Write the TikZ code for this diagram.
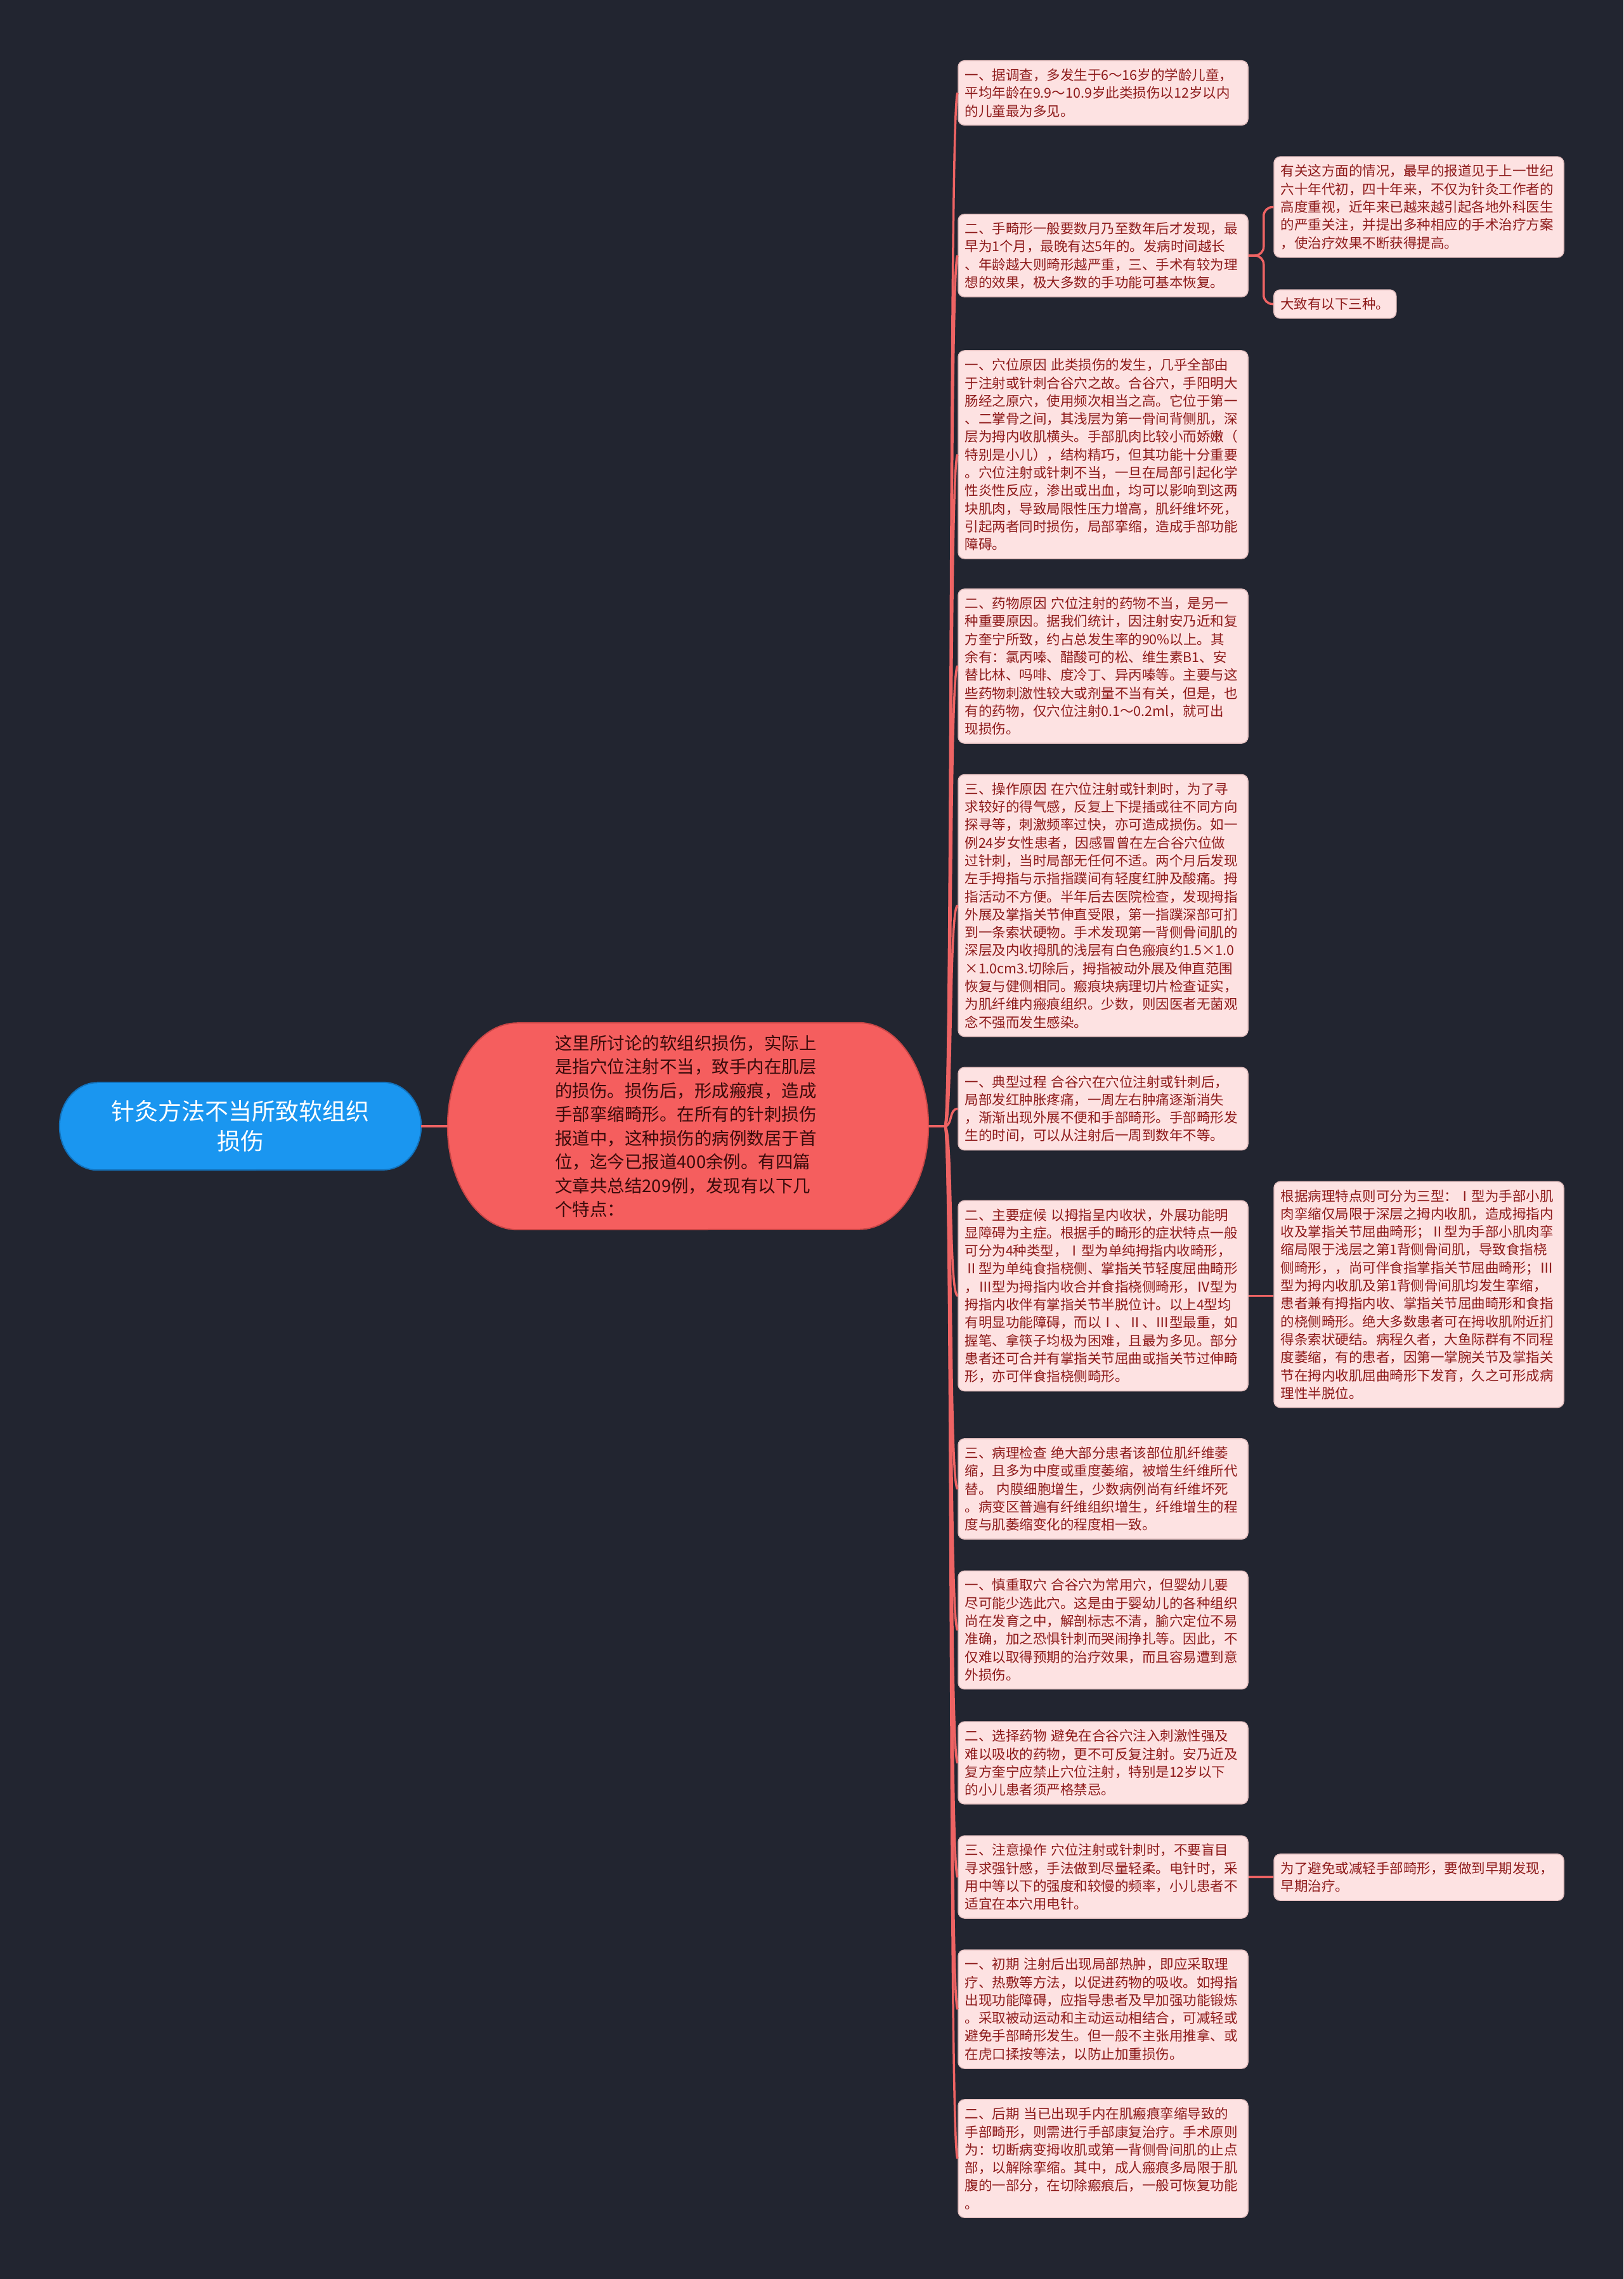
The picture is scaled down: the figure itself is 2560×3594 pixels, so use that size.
\documentclass[tikz,border=0pt]{standalone}
\usepackage{fontspec}
\setmainfont{Noto Sans CJK SC}
\usetikzlibrary{calc}
\definecolor{bgc}{HTML}{222530}
\definecolor{rootfill}{HTML}{1A96F0}
\definecolor{rootdraw}{HTML}{1272BC}
\definecolor{midfill}{HTML}{F55E5E}
\definecolor{middraw}{HTML}{C94646}
\definecolor{midtext}{HTML}{3A0B0B}
\definecolor{boxfill}{HTML}{FDE2E2}
\definecolor{boxdraw}{HTML}{E3BFBF}
\definecolor{boxtext}{HTML}{8E1B1B}
\definecolor{connc}{HTML}{EE6363}
\pgfdeclarelayer{back}
\pgfdeclarelayer{shapes}
\pgfsetlayers{back,shapes,main}
\begin{document}
\begin{tikzpicture}[x=1pt,y=-1pt,
  leafs/.style={draw=boxdraw, line width=1.5pt, fill=boxfill, rounded corners=10pt, text=boxtext, font=\fontsize{21.5}{28.3}\selectfont, align=left, inner xsep=10.5pt, inner ysep=12.5pt},
  leaf/.style={leafs, text width=436pt},
  rootn/.style={minimum width=570pt, minimum height=138pt, inner sep=0pt, text=white, font=\fontsize{37}{47}\selectfont, align=center},
  midn/.style={minimum width=758pt, minimum height=326pt, inner sep=0pt, text=midtext, font=\fontsize{27.5}{37.5}\selectfont, align=left, text width=420pt},
  link/.style={draw=connc, line width=3.5pt}]

\begin{pgfonlayer}{back}
\fill[bgc] (0,0) rectangle (2560,3594);
\end{pgfonlayer}

% root and central nodes
\node[rootn] (root) at (379,1776) {针灸方法不当所致软组织\\损伤};
\node[midn] (mid) at (1085,1776) {这里所讨论的软组织损伤，实际上\\是指穴位注射不当，致手内在肌层\\的损伤。损伤后，形成瘢痕，造成\\手部挛缩畸形。在所有的针刺损伤\\报道中，这种损伤的病例数居于首\\位，迄今已报道400余例。有四篇\\文章共总结209例，发现有以下几\\个特点：};

\begin{pgfonlayer}{shapes}
\filldraw[fill=rootfill, draw=rootdraw, line width=2pt] ($(root.north west)+(60,0)$) -- ($(root.north east)+(-60,0)$) arc[start angle=90, end angle=-90, x radius=60pt, y radius=69pt] -- ($(root.south west)+(60,0)$) arc[start angle=270, end angle=90, x radius=60pt, y radius=69pt] -- cycle;
\filldraw[fill=midfill, draw=middraw, line width=2pt] ($(mid.north west)+(110,0)$) -- ($(mid.north east)+(-110,0)$) arc[start angle=90, end angle=-90, x radius=110pt, y radius=163pt] -- ($(mid.south west)+(110,0)$) arc[start angle=270, end angle=90, x radius=110pt, y radius=163pt] -- cycle;
\end{pgfonlayer}

% main column
\node[leaf] (A) at (1739.5,146.5) {一、据调查，多发生于6～16岁的学龄儿童，\\平均年龄在9.9～10.9岁此类损伤以12岁以内\\的儿童最为多见。};
\node[leaf] (B) at (1739.5,403) {二、手畸形一般要数月乃至数年后才发现，最\\早为1个月，最晚有达5年的。发病时间越长\\、年龄越大则畸形越严重，三、手术有较为理\\想的效果，极大多数的手功能可基本恢复。};
\node[leaf] (C) at (1739.5,717) {一、穴位原因 此类损伤的发生，几乎全部由\\于注射或针刺合谷穴之故。合谷穴，手阳明大\\肠经之原穴，使用频次相当之高。它位于第一\\、二掌骨之间，其浅层为第一骨间背侧肌，深\\层为拇内收肌横头。手部肌肉比较小而娇嫩（\\特别是小儿），结构精巧，但其功能十分重要\\。穴位注射或针刺不当，一旦在局部引起化学\\性炎性反应，渗出或出血，均可以影响到这两\\块肌肉，导致局限性压力增高，肌纤维坏死，\\引起两者同时损伤，局部挛缩，造成手部功能\\障碍。};
\node[leaf] (D) at (1739.5,1050.5) {二、药物原因 穴位注射的药物不当，是另一\\种重要原因。据我们统计，因注射安乃近和复\\方奎宁所致，约占总发生率的90\%以上。其\\余有：氯丙嗪、醋酸可的松、维生素B1、安\\替比林、吗啡、度冷丁、异丙嗪等。主要与这\\些药物刺激性较大或剂量不当有关，但是，也\\有的药物，仅穴位注射0.1～0.2ml，就可出\\现损伤。};
\node[leaf] (E) at (1739.5,1428) {三、操作原因 在穴位注射或针刺时，为了寻\\求较好的得气感，反复上下提插或往不同方向\\探寻等，刺激频率过快，亦可造成损伤。如一\\例24岁女性患者，因感冒曾在左合谷穴位做\\过针刺，当时局部无任何不适。两个月后发现\\左手拇指与示指指蹼间有轻度红肿及酸痛。拇\\指活动不方便。半年后去医院检查，发现拇指\\外展及掌指关节伸直受限，第一指蹼深部可扪\\到一条索状硬物。手术发现第一背侧骨间肌的\\深层及内收拇肌的浅层有白色瘢痕约1.5×1.0\\×1.0cm3.切除后，拇指被动外展及伸直范围\\恢复与健侧相同。瘢痕块病理切片检查证实，\\为肌纤维内瘢痕组织。少数，则因医者无菌观\\念不强而发生感染。};
\node[leaf] (F) at (1739.5,1748.5) {一、典型过程 合谷穴在穴位注射或针刺后，\\局部发红肿胀疼痛，一周左右肿痛逐渐消失\\，渐渐出现外展不便和手部畸形。手部畸形发\\生的时间，可以从注射后一周到数年不等。};
\node[leaf] (G) at (1739.5,2043.5) {二、主要症候 以拇指呈内收状，外展功能明\\显障碍为主症。根据手的畸形的症状特点一般\\可分为4种类型，Ⅰ型为单纯拇指内收畸形，\\Ⅱ型为单纯食指桡侧、掌指关节轻度屈曲畸形\\，Ⅲ型为拇指内收合并食指桡侧畸形，Ⅳ型为\\拇指内收伴有掌指关节半脱位计。以上4型均\\有明显功能障碍，而以Ⅰ、Ⅱ、Ⅲ型最重，如\\握笔、拿筷子均极为困难，且最为多见。部分\\患者还可合并有掌指关节屈曲或指关节过伸畸\\形，亦可伴食指桡侧畸形。};
\node[leaf] (I) at (1739.5,2348) {三、病理检查 绝大部分患者该部位肌纤维萎\\缩，且多为中度或重度萎缩，被增生纤维所代\\替。 内膜细胞增生，少数病例尚有纤维坏死\\。病变区普遍有纤维组织增生，纤维增生的程\\度与肌萎缩变化的程度相一致。};
\node[leaf] (J) at (1739.5,2570.5) {一、慎重取穴 合谷穴为常用穴，但婴幼儿要\\尽可能少选此穴。这是由于婴幼儿的各种组织\\尚在发育之中，解剖标志不清，腧穴定位不易\\准确，加之恐惧针刺而哭闹挣扎等。因此，不\\仅难以取得预期的治疗效果，而且容易遭到意\\外损伤。};
\node[leaf] (K) at (1739.5,2780) {二、选择药物 避免在合谷穴注入刺激性强及\\难以吸收的药物，更不可反复注射。安乃近及\\复方奎宁应禁止穴位注射，特别是12岁以下\\的小儿患者须严格禁忌。};
\node[leaf] (L) at (1739.5,2960) {三、注意操作 穴位注射或针刺时，不要盲目\\寻求强针感，手法做到尽量轻柔。电针时，采\\用中等以下的强度和较慢的频率，小儿患者不\\适宜在本穴用电针。};
\node[leaf] (M) at (1739.5,3168.5) {一、初期 注射后出现局部热肿，即应采取理\\疗、热敷等方法，以促进药物的吸收。如拇指\\出现功能障碍，应指导患者及早加强功能锻炼\\。采取被动运动和主动运动相结合，可减轻或\\避免手部畸形发生。但一般不主张用推拿、或\\在虎口揉按等法，以防止加重损伤。};
\node[leaf] (N) at (1739.5,3404) {二、后期 当已出现手内在肌瘢痕挛缩导致的\\手部畸形，则需进行手部康复治疗。手术原则\\为：切断病变拇收肌或第一背侧骨间肌的止点\\部，以解除挛缩。其中，成人瘢痕多局限于肌\\腹的一部分，在切除瘢痕后，一般可恢复功能\\。};

% right column
\node[leaf] (B1) at (2237.5,326.5) {有关这方面的情况，最早的报道见于上一世纪\\六十年代初，四十年来，不仅为针灸工作者的\\高度重视，近年来已越来越引起各地外科医生\\的严重关注，并提出多种相应的手术治疗方案\\，使治疗效果不断获得提高。};
\node[leafs, anchor=west] (B2) at (2008,479.5) {大致有以下三种。};
\node[leaf] (H) at (2237.5,2041.5) {根据病理特点则可分为三型：Ⅰ型为手部小肌\\肉挛缩仅局限于深层之拇内收肌，造成拇指内\\收及掌指关节屈曲畸形；Ⅱ型为手部小肌肉挛\\缩局限于浅层之第1背侧骨间肌，导致食指桡\\侧畸形，，尚可伴食指掌指关节屈曲畸形；Ⅲ\\型为拇内收肌及第1背侧骨间肌均发生挛缩，\\患者兼有拇指内收、掌指关节屈曲畸形和食指\\的桡侧畸形。绝大多数患者可在拇收肌附近扪\\得条索状硬结。病程久者，大鱼际群有不同程\\度萎缩，有的患者，因第一掌腕关节及掌指关\\节在拇内收肌屈曲畸形下发育，久之可形成病\\理性半脱位。};
\node[leaf] (L1) at (2237.5,2960.5) {为了避免或减轻手部畸形，要做到早期发现，\\早期治疗。};

% connectors
\coordinate (hub) at (1490,1776);
\draw[link] (root.east) -- (mid.west);
\draw[link] (mid.east) -- (hub);
\foreach \n in {A,B,C,D,E,F,G,I,J,K,L,M,N}
  \draw[link] (hub) .. controls +(12,0) and +(-14,0) .. (\n.west);
\draw[link, rounded corners=14pt] (B.east) -- ++(24,0) |- (B1.west);
\draw[link, rounded corners=14pt] (B.east) -- ++(24,0) |- (B2.west);
\draw[link] (G.east) -- (G.east -| H.west);
\draw[link] (L.east) -- (L.east -| L1.west);
\end{tikzpicture}
\end{document}
